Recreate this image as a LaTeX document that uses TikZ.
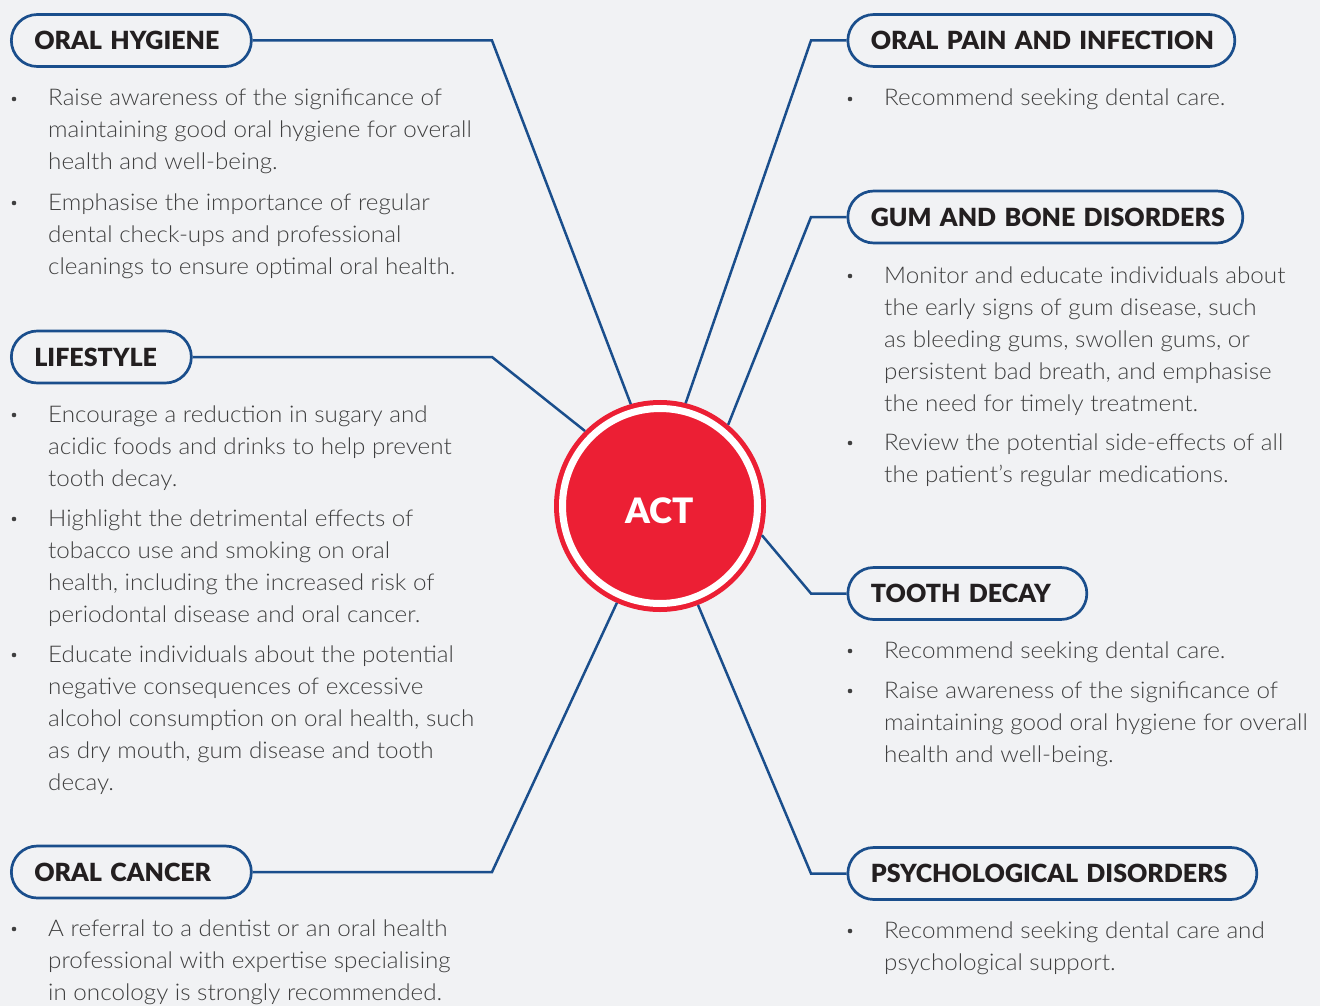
\documentclass[tikz,border=0pt]{standalone}
\usepackage{fontspec}
\setmainfont{Lato}
\IfFontExistsTF{Lato Light}{\newfontfamily\bodyfont[FakeStretch=1.053]{Lato Light}}{\newfontfamily\bodyfont[FakeStretch=1.053]{Lato}}
\IfFontExistsTF{Lato Black}{\newfontfamily\headfont{Lato Black}}{\newfontfamily\headfont[FakeStretch=1.02,FakeBold=1]{Lato Bold}}
\usetikzlibrary{positioning}
\definecolor{bgcol}{HTML}{F1F2F4}
\definecolor{linkblue}{HTML}{1A4E8C}
\definecolor{actred}{HTML}{EC1F34}
\definecolor{headtext}{HTML}{231F20}
\definecolor{bodytext}{HTML}{3F3F3F}
\begin{document}
\begin{tikzpicture}
	[x=1pt, y=-1pt,
	topic/.style ={draw=linkblue, line width=2.7, rounded corners=26, minimum height=52, inner xsep=23, inner ysep=0, anchor=west, align=left, text=headtext, font=\headfont\fontsize{25}{30}\selectfont, execute at begin node=\hbox\bgroup, execute at end node=\egroup},
	point/.style ={anchor=base west, inner sep=0, align=left, text=bodytext, font=\bodyfont\fontsize{23}{32}\selectfont},
	link/.style ={draw=linkblue, line width=2.5},
	hub/.style ={circle, fill=actred, draw=actred, line width=5, double=white, double distance=7, minimum size=195, inner sep=0, outer sep=8.5, text=white, text height=34, text depth=0, font=\headfont\fontsize{35}{40}\selectfont}]
	\useasboundingbox (0,0) rectangle (1320,1006);
	\fill[bgcol] (0,0) rectangle (1320,1006);
	\node[hub] (act) at (660,506) {ACT};
	% left side (points are placed at the baseline of their last line)
	\node[topic, text width=194] (oh) at (10,40.5) {ORAL HYGIENE};
	\node[topic, text width=134] (ls) at (10,357) {LIFESTYLE};
	\node[topic, text width=194] (oc) at (10,872) {ORAL CANCER};
	\node[point] (oh1) at (48,170) {Raise awareness of the significance of\\maintaining good oral hygiene for overall\\health and well-being.};
	\node[point] (oh2) at (48,274) {Emphasise the importance of regular\\dental check-ups and professional\\cleanings to ensure optimal oral health.};
	\node[point] (ls1) at (48,486) {Encourage a reduction in sugary and\\acidic foods and drinks to help prevent\\tooth decay.};
	\node[point] (ls2) at (48,622) {Highlight the detrimental effects of\\tobacco use and smoking on oral\\health, including the increased risk of\\periodontal disease and oral cancer.};
	\node[point] (ls3) at (48,790) {Educate individuals about the potential\\negative consequences of excessive\\alcohol consumption on oral health, such\\as dry mouth, gum disease and tooth\\decay.};
	\node[point] (oc1) at (48,1000) {A referral to a dentist or an oral health\\professional with expertise specialising\\in oncology is strongly recommended.};
	% right side
	\node[topic, text width=341] (op) at (846.5,40.5) {ORAL PAIN AND INFECTION};
	\node[topic, text width=349] (gum) at (846.5,217) {GUM AND BONE DISORDERS};
	\node[topic, text width=193] (td) at (846.5,593.5) {TOOTH DECAY};
	\node[topic, text width=363] (psy) at (846.5,873.5) {PSYCHOLOGICAL DISORDERS};
	\node[point] (op1) at (884,106) {Recommend seeking dental care.};
	\node[point] (gum1) at (884,411) {Monitor and educate individuals about\\the early signs of gum disease, such\\as bleeding gums, swollen gums, or\\persistent bad breath, and emphasise\\the need for timely treatment.};
	\node[point] (gum2) at (884,482) {Review the potential side-effects of all\\the patient’s regular medications.};
	\node[point] (td1) at (884,658) {Recommend seeking dental care.};
	\node[point] (td2) at (884,762) {Raise awareness of the significance of\\maintaining good oral hygiene for overall\\health and well-being.};
	\node[point] (psy1) at (884,970) {Recommend seeking dental care and\\psychological support.};
	\foreach \p/\n in {oh1/3,oh2/3,ls1/3,ls2/4,ls3/5,oc1/3,op1/1,gum1/5,gum2/2,td1/1,td2/3,psy1/2}
		\fill[bodytext] ([shift={(-34,{-7-32*(\n-1)})}]\p.base west) circle (2.3);
	% elbows
	\coordinate (ohk) at (492,40.5);
	\coordinate (lsk) at (492,357);
	\coordinate (ock) at (492,872);
	\coordinate (opk) at (811,40.5);
	\coordinate (gumk) at (811,217);
	\coordinate (tdk) at (811,593.5);
	\coordinate (psyk) at (811,873.5);
	\draw[link] (oh.east) -- (ohk) -- (act.106);
	\draw[link] (ls.east) -- (lsk) -- (act.135);
	\draw[link] (oc.east) -- (ock) -- (act.246);
	\draw[link] (op.west) -- (opk) -- (act.76);
	\draw[link] (gum.west) -- (gumk) -- (act.50);
	\draw[link] (td.west) -- (tdk) -- (act.-16);
	\draw[link] (psy.west) -- (psyk) -- (act.-69);
\end{tikzpicture}
\end{document}
